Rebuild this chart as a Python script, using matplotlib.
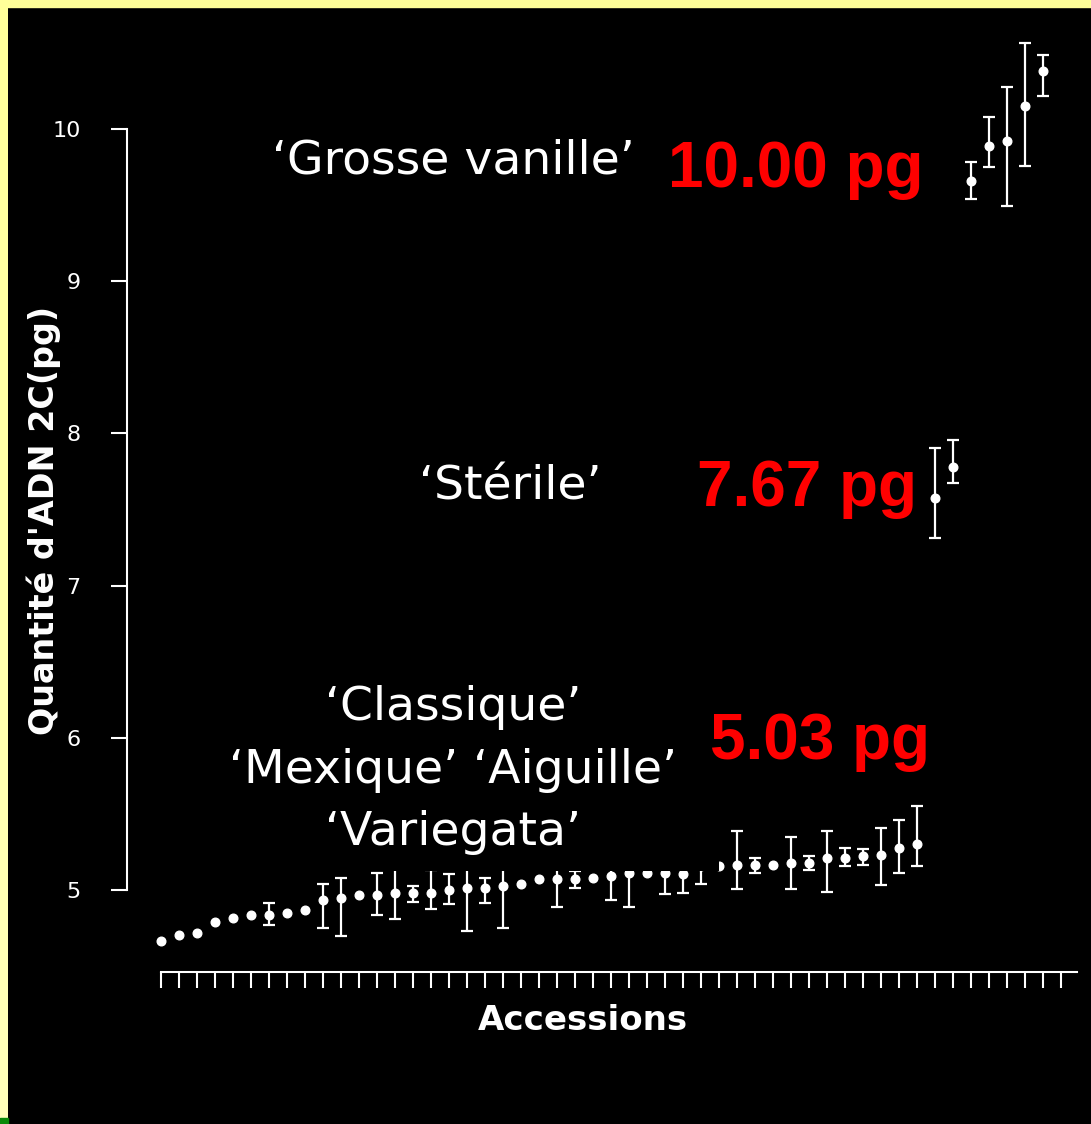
import numpy as np
import matplotlib
matplotlib.use("Agg")
import matplotlib.pyplot as plt
from matplotlib.patches import Rectangle

# 2C DNA content per accession (pg), with lower / upper ends of the bars
accession = np.arange(50)
dna_2c = [4.665, 4.706, 4.715, 4.792, 4.816, 4.836, 4.836, 4.849, 4.869, 4.934,
          4.947, 4.969, 4.969, 4.980, 4.980, 4.980, 5.002, 5.011, 5.011, 5.028,
          5.038, 5.070, 5.070, 5.070, 5.079, 5.092, 5.110, 5.112, 5.110, 5.108,
          5.158, 5.158, 5.166, 5.166, 5.166, 5.179, 5.179, 5.212, 5.212, 5.223,
          5.232, 5.278, 5.300, 7.574, 7.781, 9.658, 9.890, 9.923, 10.153, 10.383]
bar_low = [None, None, None, None, None, None, 4.770, None, None, 4.748,
           4.696, None, 4.838, 4.811, 4.921, 4.877, 4.910, 4.731, 4.913, 4.748,
           None, None, 4.890, 5.013, None, 4.934, 4.890, None, 4.972, 4.982,
           5.038, None, 5.005, 5.114, None, 5.005, 5.131, 4.989, 5.156, 5.164,
           5.033, 5.114, 5.156, 7.311, 7.672, 9.538, 9.748, 9.496, 9.759, 10.219]
bar_high = [None, None, None, None, None, None, 4.917, None, None, 5.038,
            5.081, None, 5.114, 5.149, 5.028, 5.130, 5.105, 5.291, 5.081, 5.308,
            None, None, 5.250, 5.127, None, 5.250, 5.330, None, 5.248, 5.234,
            5.278, None, 5.388, 5.212, None, 5.346, 5.225, 5.388, 5.278, 5.267,
            5.409, 5.462, 5.554, 7.902, 7.957, 9.781, 10.077, 10.276, 10.563, 10.486]

y_ticks = [5, 6, 7, 8, 9, 10]
n_ticks_x = 51

W, H = 1091, 1124
fig = plt.figure(figsize=(W / 100, H / 100), dpi=100, facecolor="black")

# pale yellow frame (left edge fades lighter towards the bottom)
grad = np.linspace(0, 1, 256).reshape(-1, 1)
ax_strip = fig.add_axes([0, 6 / H, 8 / W, 1 - 6 / H])
ax_strip.imshow(grad, aspect="auto", extent=[0, 1, 0, 1],
                cmap=matplotlib.colors.LinearSegmentedColormap.from_list("y", ["#ffff99", "#ffffbb"]))
ax_strip.axis("off")
fig.patches.append(Rectangle((0, 1 - 7 / H), 1, 7 / H, transform=fig.transFigure,
                             color="#ffff99", zorder=5))
fig.patches.append(Rectangle((0, 0), 8 / W, 6 / H, transform=fig.transFigure,
                             color="#0a8a0a", zorder=5))

ax = fig.add_axes([127 / W, 1 - 972 / H, (1076 - 127) / W, (972 - 30) / H])
ax.set_facecolor("black")
ax.set_xlim(-1.872, 50.85)
ax.set_ylim(4.461, 10.65)

vals = np.array(dna_2c)
has_bar = np.array([lo is not None for lo in bar_low])
lo = np.array([v if v is not None else np.nan for v in bar_low])
hi = np.array([v if v is not None else np.nan for v in bar_high])

ax.errorbar(accession[has_bar], vals[has_bar],
            yerr=[vals[has_bar] - lo[has_bar], hi[has_bar] - vals[has_bar]],
            fmt="none", ecolor="white", elinewidth=1.6, capsize=4.5, capthick=1.6,
            clip_on=False, zorder=2)
ax.plot(accession, vals, "o", color="white", ms=6.2, clip_on=False, zorder=3)

# black backing box of the cultivar label (hides part of the points)
ax.add_patch(Rectangle((0.0622, 0.1075), 0.5616, 0.25, transform=ax.transAxes,
                       facecolor="black", edgecolor="none", zorder=4))

for s in ["top", "right"]:
    ax.spines[s].set_visible(False)
ax.spines["left"].set_bounds(5, 10)
ax.spines["bottom"].set_bounds(0, 50.9)
for s in ["left", "bottom"]:
    ax.spines[s].set_color("white")
    ax.spines[s].set_linewidth(1.5)

ax.set_yticks(y_ticks)
ax.set_yticklabels([str(t) for t in y_ticks])
ax.set_xticks(np.arange(n_ticks_x))
ax.set_xticklabels([])
ax.tick_params(axis="y", colors="white", length=11.5, width=1.5, pad=22, labelsize=16)
ax.tick_params(axis="x", colors="white", length=11.5, width=1.5)

fig.text(44 / W, 1 - 520 / H, "Quantité d'ADN 2C(pg)", rotation=90, color="white",
         fontsize=24, fontweight="bold", ha="center", va="center")
fig.text(583 / W, 1 - 1030 / H, "Accessions", color="white", fontsize=24.5,
         fontweight="bold", ha="center", va="baseline")

label_kw = dict(color="white", fontsize=34, ha="center", va="baseline", zorder=6)
fig.text(453 / W, 1 - 174 / H, "‘Grosse vanille’", **label_kw)
fig.text(510 / W, 1 - 500 / H, "‘Stérile’", **label_kw)
fig.text(453 / W, 1 - 720 / H, "‘Classique’", **label_kw)
fig.text(453 / W, 1 - 783 / H, "‘Mexique’ ‘Aiguille’", **label_kw)
fig.text(453 / W, 1 - 845 / H, "‘Variegata’", **label_kw)

red_kw = dict(color="#ff0000", fontsize=46, fontweight="bold", family="Liberation Sans",
              ha="left", va="baseline")
fig.text(668 / W, 1 - 187 / H, "10.00 pg", **red_kw)
fig.text(697 / W, 1 - 506 / H, "7.67 pg", **red_kw)
fig.text(710 / W, 1 - 759 / H, "5.03 pg", **red_kw)

fig.savefig("out.png", dpi=100, facecolor="black")
